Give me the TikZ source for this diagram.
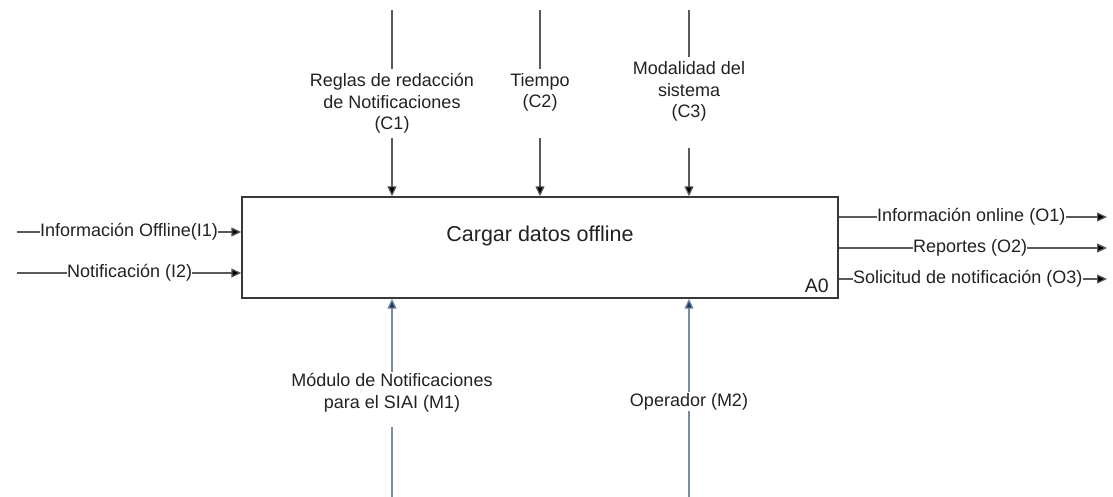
\documentclass[tikz,border=0pt]{standalone}
\usepackage{fontspec}
\setmainfont{Liberation Sans}
\usetikzlibrary{arrows.meta}
\definecolor{wire}{HTML}{5A5A5A}
\definecolor{mechwire}{HTML}{7C8CA0}
\definecolor{mechhead}{HTML}{1F3A66}
\definecolor{ink}{HTML}{222222}
\tikzset{
  lbl/.style={font=\fontsize{18}{21.5}\selectfont, text=ink, align=center, inner xsep=0pt, inner ysep=2pt},
  actbox/.style={draw=ink!90, line width=1.4pt, minimum width=596pt, minimum height=101pt, inner sep=0pt},
  ctl/.style={draw=wire, line width=1.2pt},
  ctlarrow/.style={ctl, -{Triangle[length=10pt,width=9pt,fill=black]}},
  mech/.style={draw=mechwire, line width=1.2pt},
  mecharrow/.style={mech, -{Triangle[length=10pt,width=9pt,fill=mechhead]}},
}
\begin{document}
\begin{tikzpicture}[x=1pt,y=-1pt]
\useasboundingbox[fill=white] (0,0) rectangle (1113,497);

% activity box
\node[actbox] (A) at (540,247.5) {};
\node[font=\fontsize{21.5}{24}\selectfont, text=ink] (title) at (540,236) {Cargar datos offline};
\node[font=\fontsize{19.5}{22}\selectfont, text=ink, anchor=east, inner sep=0pt] (a0) at (829,286) {A0};

% controls
\coordinate (c1t) at (392,10);
\coordinate (c2t) at (540,10);
\coordinate (c3t) at (689,10);
\node[lbl, inner ysep=4pt] (c1) at (392,103.5) {Reglas de redacción\\de Notificaciones\\(C1)};
\node[lbl, inner ysep=4pt] (c2) at (540,92.5) {Tiempo\\(C2)};
\node[lbl, inner ysep=4pt] (c3) at (689,91.5) {Modalidad del\\sistema\\(C3)};
\draw[ctl] (c1t) -- (c1.north);
\draw[ctl] (c2t) -- (c2.north);
\draw[ctl] (c3t) -- (c3.north);
\draw[ctlarrow] (c1.south) -- (A.north -| c1);
\draw[ctlarrow, shorten <=22pt] (c2.south) -- (A.north -| c2);
\draw[ctlarrow, shorten <=22pt] (c3.south) -- (A.north -| c3);

% inputs
\coordinate (i1s) at (17,232);
\coordinate (i2s) at (17,273);
\node[lbl, anchor=west, inner sep=0pt] (i1) at (40,232) {Información Offline(I1)};
\node[lbl, anchor=west, inner sep=0pt] (i2) at (67,273) {Notificación (I2)};
\draw[ctl] (i1s) -- (i1.west);
\draw[ctl] (i2s) -- (i2.west);
\draw[ctlarrow] (i1.east) -- (A.west |- i1);
\draw[ctlarrow] (i2.east) -- (A.west |- i2);

% outputs
\node[lbl, anchor=west, inner sep=0pt] (o1) at (877,217) {Información online (O1)};
\node[lbl, anchor=west, inner sep=0pt] (o2) at (913,248) {Reportes (O2)};
\node[lbl, anchor=west, inner sep=0pt] (o3) at (853,279) {Solicitud de notificación (O3)};
\coordinate (o1e) at (1107,217);
\coordinate (o2e) at (1107,248);
\coordinate (o3e) at (1107,279);
\draw[ctl] (A.east |- o1) -- (o1.west);
\draw[ctl] (A.east |- o2) -- (o2.west);
\draw[ctl] (A.east |- o3) -- (o3.west);
\draw[ctlarrow] (o1.east) -- (o1e);
\draw[ctlarrow] (o2.east) -- (o2e);
\draw[ctlarrow] (o3.east) -- (o3e);

% mechanisms
\coordinate (m1b) at (392,497);
\coordinate (m2b) at (689,497);
\node[lbl, inner ysep=1pt] (m1) at (392,392.5) {Módulo de Notificaciones\\para el SIAI (M1)};
\node[lbl, inner ysep=1pt] (m2) at (689,401.5) {Operador (M2)};
\draw[mech, shorten >=14pt] (m1b) -- (m1.south);
\draw[mech] (m2b) -- (m2.south);
\draw[mecharrow] (m1.north) -- (A.south -| m1);
\draw[mecharrow] (m2.north) -- (A.south -| m2);
\end{tikzpicture}
\end{document}
